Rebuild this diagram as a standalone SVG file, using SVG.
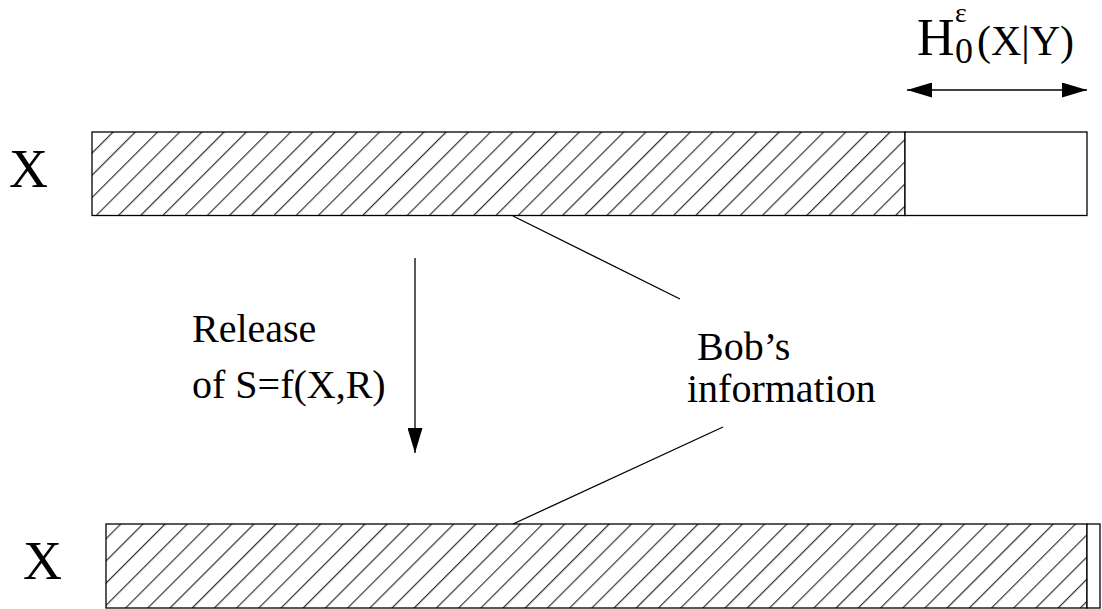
<svg xmlns="http://www.w3.org/2000/svg" width="1102" height="609" viewBox="0 0 1102 609">
<style>
text{font-family:"Liberation Serif","Times New Roman",serif;fill:#000}
.bar{stroke:#000;stroke-width:1.3}
.ln{stroke:#000;stroke-width:1.3;fill:none}
</style>
<defs>
<pattern id="hatch" patternUnits="userSpaceOnUse" width="15.7" height="10" patternTransform="rotate(45)">
<rect width="15.7" height="10" fill="#fff"/>
<line x1="0.6" y1="0" x2="0.6" y2="10" stroke="#333" stroke-width="1.2"/>
</pattern>
<marker id="ah" markerUnits="userSpaceOnUse" viewBox="0 0 25 15" refX="25" refY="7.5" markerWidth="25" markerHeight="15" orient="auto-start-reverse">
<path d="M0,0 L25,7.5 L0,15 Z" fill="#000"/>
</marker>
</defs>
<rect width="1102" height="609" fill="#fff"/>
<g id="topbar">
<rect class="bar" x="92" y="132" width="813" height="83.5" fill="url(#hatch)"/>
<rect class="bar" x="905" y="132" width="182" height="83.5" fill="#fff"/>
</g>
<g id="bottombar">
<rect class="bar" x="106" y="524" width="981" height="84" fill="url(#hatch)"/>
<rect class="bar" x="1087" y="524" width="13" height="84" fill="#fff"/>
</g>
<g id="labelX1"><text x="9" y="187" font-size="54">X</text></g>
<g id="labelX2"><text x="23" y="579" font-size="54">X</text></g>
<g id="entropy">
<text x="917" y="55" font-size="52">H</text>
<text x="955" y="22" font-size="28">ε</text>
<text x="955" y="63" font-size="36">0</text>
<text x="977" y="55" font-size="42">(X|Y)</text>
</g>
<g id="release">
<text x="192" y="342" font-size="40">Release</text>
<text x="192" y="398" font-size="40">of S=f(X,R)</text>
</g>
<g id="bob">
<text x="697" y="360" font-size="40">Bob’s</text>
<text x="687" y="402" font-size="40">information</text>
</g>
<g id="connectors">
<line class="ln" x1="907" y1="90" x2="1087" y2="90" marker-start="url(#ah)" marker-end="url(#ah)"/>
<line class="ln" x1="415" y1="258" x2="415" y2="453" marker-end="url(#ah)"/>
<line class="ln" x1="513" y1="216" x2="680" y2="299"/>
<line class="ln" x1="513" y1="524" x2="723" y2="427"/>
</g>
</svg>
